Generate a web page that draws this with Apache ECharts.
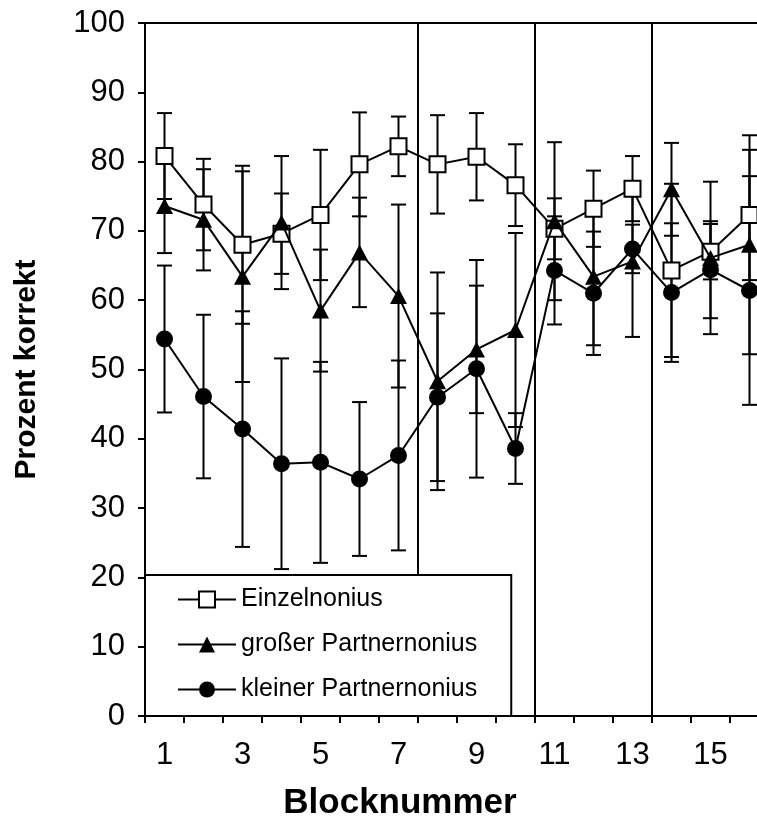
<!DOCTYPE html>
<html>
<head>
<meta charset="utf-8">
<script src="https://cdn.jsdelivr.net/npm/echarts@6/dist/echarts.min.js"></script>
<style>html,body{margin:0;padding:0;background:#fff;}#c{width:757px;height:826px;}</style>
</head>
<body>
<div id="c"></div>
<script>
const categories = ['1','2','3','4','5','6','7','8','9','10','11','12','13','14','15','16'];
const seriesNames = ['Einzelnonius', 'großer Partnernonius', 'kleiner Partnernonius'];
const einzel      = [80.8, 73.8, 68.0, 69.6, 72.3, 79.6, 82.2, 79.6, 80.7, 76.6, 70.3, 73.2, 76.1, 64.3, 67.0, 72.3];
const einzelErr   = [ 6.2,  6.6, 11.4,  5.8,  9.4,  7.5,  4.3,  7.1,  6.3,  5.9,  4.4,  5.5,  4.7, 12.5,  4.0,  9.4];
const gross       = [73.6, 71.6, 63.4, 71.2, 58.5, 66.9, 60.6, 48.3, 52.9, 55.7, 71.4, 63.4, 65.6, 76.0, 66.1, 68.0];
const grossErr    = [ 6.8,  7.3, 15.2,  9.6,  8.8,  7.9, 13.2, 15.7,  9.2, 14.0, 11.4,  9.9, 10.9,  6.7, 11.0, 15.8];
const klein       = [54.4, 46.1, 41.4, 36.4, 36.6, 34.2, 37.6, 46.0, 50.1, 38.6, 64.3, 61.0, 67.4, 61.1, 64.4, 61.4];
const kleinErr    = [10.6, 11.8, 17.0, 15.2, 14.5, 11.1, 13.7, 12.1, 15.7,  5.1,  7.8,  8.9,  3.5, 10.0,  7.0, 16.5];
const dividersAfter = ['7', '10', '13'];
const yMin = 0, yMax = 100, yStep = 10;

const FONT = '"Liberation Sans", Arial, sans-serif';

function errData(vals, errs) {
  return vals.map((v, i) => [i, v - errs[i], v + errs[i]]);
}
function renderErr(params, api) {
  const x = api.value(0);
  const lo = api.coord([x, api.value(1)]);
  const hi = api.coord([x, api.value(2)]);
  const cw = 7.5;
  const st = { stroke: '#000', lineWidth: 2 };
  return {
    type: 'group',
    children: [
      { type: 'line', shape: { x1: lo[0], y1: lo[1], x2: hi[0], y2: hi[1] }, style: st },
      { type: 'line', shape: { x1: lo[0] - cw, y1: lo[1], x2: lo[0] + cw, y2: lo[1] }, style: st },
      { type: 'line', shape: { x1: hi[0] - cw, y1: hi[1], x2: hi[0] + cw, y2: hi[1] }, style: st }
    ]
  };
}
function renderDivider(params, api) {
  const idx = api.value(0);
  const bw = api.size([1, 0])[0];
  const top = api.coord([idx, yMax]);
  const bot = api.coord([idx, yMin]);
  const x = top[0] + bw / 2;
  return { type: 'line', shape: { x1: x, y1: top[1], x2: x, y2: bot[1] }, style: { stroke: '#000', lineWidth: 2 } };
}

const lineBase = {
  type: 'line',
  lineStyle: { color: '#000', width: 2 },
  z: 5,
  animation: false
};

const chart = echarts.init(document.getElementById('c'), null, { renderer: 'canvas' });
chart.setOption({
  animation: false,
  backgroundColor: '#fff',
  textStyle: { fontFamily: FONT },
  title: {
    text: 'Blocknummer',
    left: 395,
    top: 781,
    textAlign: 'center',
    textStyle: { fontFamily: FONT, fontSize: 35, fontWeight: 'bold', color: '#000' }
  },
  grid: {
    left: 145, top: 23, width: 624, height: 693,
    outerBoundsMode: 'none',
    containLabel: false,
    show: true, borderColor: '#000', borderWidth: 2, backgroundColor: 'transparent'
  },
  legend: {
    left: 145, top: 575,
    orient: 'vertical',
    backgroundColor: '#fff',
    borderColor: '#000', borderWidth: 2,
    padding: [12, 34, 14, 32],
    itemGap: 20,
    itemWidth: 58, itemHeight: 20,
    textStyle: { fontFamily: FONT, fontSize: 25, color: '#000' },
    z: 20,
    data: seriesNames
  },
  xAxis: {
    type: 'category',
    data: categories,
    boundaryGap: true,
    axisLine: { lineStyle: { color: '#000', width: 2 } },
    axisTick: { show: true, alignWithLabel: false, interval: 0, length: 7, lineStyle: { color: '#000', width: 2 } },
    axisLabel: { interval: 1, margin: 24, fontFamily: FONT, fontSize: 31, color: '#000' },
    splitLine: { show: false }
  },
  yAxis: {
    type: 'value',
    min: yMin, max: yMax, interval: yStep,
    name: 'Prozent korrekt',
    nameLocation: 'middle',
    nameGap: 103,
    nameTextStyle: { fontFamily: FONT, fontSize: 30, fontWeight: 'bold', color: '#000' },
    axisLine: { show: true, lineStyle: { color: '#000', width: 2 } },
    axisTick: { show: true, length: 7, lineStyle: { color: '#000', width: 2 } },
    axisLabel: { margin: 20, fontFamily: FONT, fontSize: 31, color: '#000' },
    splitLine: { show: false }
  },
  series: [
    {
      type: 'custom', name: 'dividers', renderItem: renderDivider,
      data: dividersAfter.map(c => [categories.indexOf(c), 0]),
      encode: { x: 0, y: 1 }, z: 1, silent: true, tooltip: { show: false }
    },
    { type: 'custom', name: 'errE', renderItem: renderErr, data: errData(einzel, einzelErr), encode: { x: 0, y: [1, 2] }, z: 3, silent: true },
    { type: 'custom', name: 'errG', renderItem: renderErr, data: errData(gross, grossErr), encode: { x: 0, y: [1, 2] }, z: 3, silent: true },
    { type: 'custom', name: 'errK', renderItem: renderErr, data: errData(klein, kleinErr), encode: { x: 0, y: [1, 2] }, z: 3, silent: true },
    Object.assign({}, lineBase, {
      name: seriesNames[0], data: einzel, symbol: 'rect', symbolSize: 16,
      itemStyle: { color: '#fff', borderColor: '#000', borderWidth: 2 }, z: 5
    }),
    Object.assign({}, lineBase, {
      name: seriesNames[1], data: gross, symbol: 'triangle', symbolSize: [17, 16],
      itemStyle: { color: '#000', borderColor: '#000', borderWidth: 0 }, z: 6
    }),
    Object.assign({}, lineBase, {
      name: seriesNames[2], data: klein, symbol: 'circle', symbolSize: 17,
      itemStyle: { color: '#000', borderColor: '#000', borderWidth: 0 }, z: 7
    })
  ]
});
</script>
</body>
</html>
